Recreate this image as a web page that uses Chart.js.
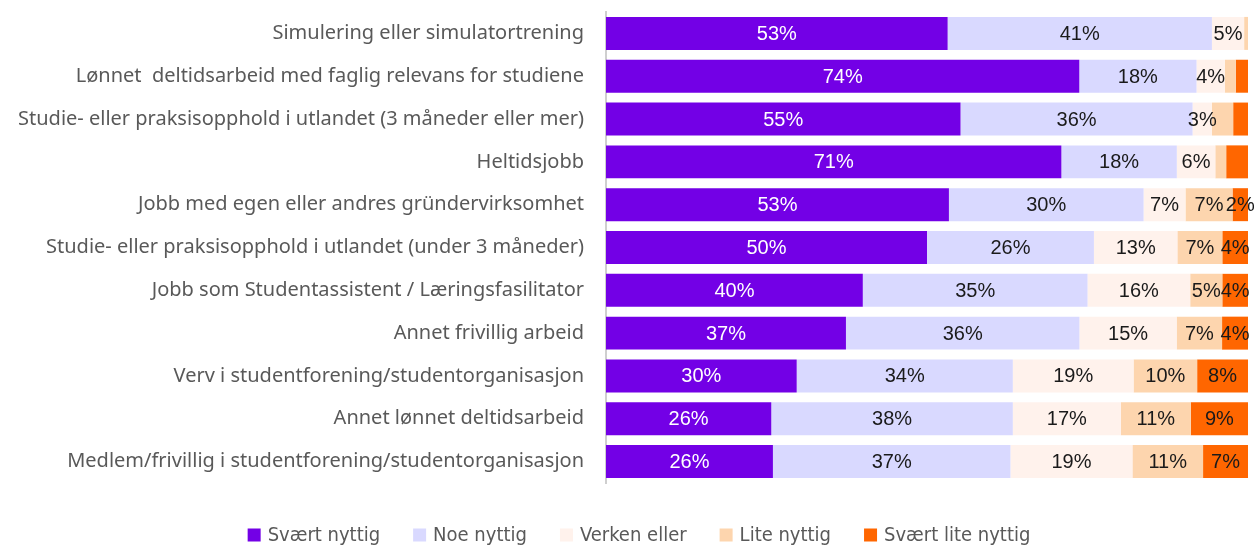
<!DOCTYPE html>
<html>
<head>
<meta charset="utf-8">
<script src="https://cdn.jsdelivr.net/npm/chart.js@4/dist/chart.umd.min.js"></script>
<style>
  html, body { margin: 0; padding: 0; background: #ffffff; overflow: hidden; }
  #wrap { position: relative; width: 1254px; height: 545px; }
</style>
</head>
<body>
<div id="wrap"><canvas id="c"></canvas></div>
<script>
const categories = [
  'Simulering eller simulatortrening',
  'Lønnet  deltidsarbeid med faglig relevans for studiene',
  'Studie- eller praksisopphold i utlandet (3 måneder eller mer)',
  'Heltidsjobb',
  'Jobb med egen eller andres gründervirksomhet',
  'Studie- eller praksisopphold i utlandet (under 3 måneder)',
  'Jobb som Studentassistent / Læringsfasilitator',
  'Annet frivillig arbeid',
  'Verv i studentforening/studentorganisasjon',
  'Annet lønnet deltidsarbeid',
  'Medlem/frivillig i studentforening/studentorganisasjon'
];
const seriesNames = ['Svært nyttig', 'Noe nyttig', 'Verken eller', 'Lite nyttig', 'Svært lite nyttig'];
const svaertNyttig     = [53, 73.5, 55, 71, 53.2, 50, 40, 37, 30, 26, 26];
const noeNyttig        = [41, 18.2, 36, 18, 30.2, 26, 35, 36, 34, 38, 37];
const verkenEller      = [5, 4.4, 3, 6, 6.5, 13, 16, 15, 19, 17, 19];
const liteNyttig       = [0.6, 1.7, 3.3, 1.7, 7.3, 7, 5, 7, 10, 11, 11];
const svaertLiteNyttig = [0, 1.9, 2.3, 3.4, 2.4, 4, 4, 4, 8, 9, 7];
// [row, series] pairs whose value labels are not shown
const hiddenLabels = [[0,3],[0,4],[1,3],[1,4],[2,3],[2,4],[3,3],[3,4]];

const seriesValues = [svaertNyttig, noeNyttig, verkenEller, liteNyttig, svaertLiteNyttig];
const colors = ['#7300E6', '#D9D9FF', '#FFF2EC', '#FDD5AE', '#FF6600'];
const labelColors = ['#ffffff', '#1a1a1a', '#1a1a1a', '#1a1a1a', '#1a1a1a'];

const rowTotals = categories.map((_, i) => seriesValues.reduce((s, arr) => s + arr[i], 0));

const datasets = seriesValues.map((vals, s) => ({
  label: seriesNames[s],
  data: vals.map((v, i) => v / rowTotals[i] * 100),
  backgroundColor: colors[s],
  borderWidth: 0,
  barPercentage: 0.77,
  categoryPercentage: 1.0
}));

const valueLabels = {
  id: 'valueLabels',
  afterDatasetsDraw(chart) {
    const ctx = chart.ctx;
    ctx.save();
    ctx.font = '20px "Liberation Sans", Arial, sans-serif';
    ctx.textAlign = 'center';
    ctx.textBaseline = 'middle';
    chart.data.datasets.forEach((ds, s) => {
      const meta = chart.getDatasetMeta(s);
      meta.data.forEach((el, i) => {
        if (hiddenLabels.some(p => p[0] === i && p[1] === s)) return;
        const v = seriesValues[s][i];
        if (!v) return;
        const p = el.getProps(['x', 'y', 'base'], true);
        ctx.fillStyle = labelColors[s];
        ctx.fillText(Math.round(v) + '%', (p.x + p.base) / 2, p.y + 1);
      });
    });
    ctx.restore();
  }
};

// Legend drawn at the bottom, built from the datasets' labels and colours
const bottomLegend = {
  id: 'bottomLegend',
  afterDraw(chart) {
    const ctx = chart.ctx;
    const box = 13, gap = 7, spacing = 33, y = 535;
    ctx.save();
    ctx.font = '20px "Liberation Sans Narrow", "DejaVu Sans Condensed", sans-serif';
    ctx.textBaseline = 'middle';
    ctx.textAlign = 'left';
    const items = chart.data.datasets.map(ds => ({ text: ds.label, color: ds.backgroundColor, w: ctx.measureText(ds.label).width }));
    const total = items.reduce((s, it) => s + box + gap + it.w, 0) + spacing * (items.length - 1);
    let x = 639 - total / 2;
    items.forEach(it => {
      ctx.fillStyle = it.color;
      ctx.fillRect(x, y - box / 2, box, box);
      x += box + gap;
      ctx.fillStyle = '#595959';
      ctx.fillText(it.text, x, y + 1);
      x += it.w + spacing;
    });
    ctx.restore();
  }
};

const chart = new Chart(document.getElementById('c'), {
  type: 'bar',
  data: { labels: categories, datasets },
  options: {
    indexAxis: 'y',
    responsive: true,
    maintainAspectRatio: false,
    devicePixelRatio: 1,
    animation: false,
    layout: { padding: { left: 0, right: 6, top: 12, bottom: 62 } },
    scales: {
      x: {
        stacked: true,
        min: 0,
        max: 100,
        display: false
      },
      y: {
        stacked: true,
        grid: { display: false, drawTicks: false },
        border: { display: true, color: '#cfcfcf', width: 2 },
        ticks: {
          color: '#595959',
          padding: 22,
          font: { family: '"Noto Sans", "Open Sans", sans-serif', size: 20 }
        },
        afterFit: (scale) => { scale.width = 606; scale.paddingTop = 0; scale.paddingBottom = 0; }
      }
    },
    plugins: {
      tooltip: { enabled: false },
      legend: { display: false }
    }
  },
  plugins: [valueLabels, bottomLegend]
});
</script>
</body>
</html>
